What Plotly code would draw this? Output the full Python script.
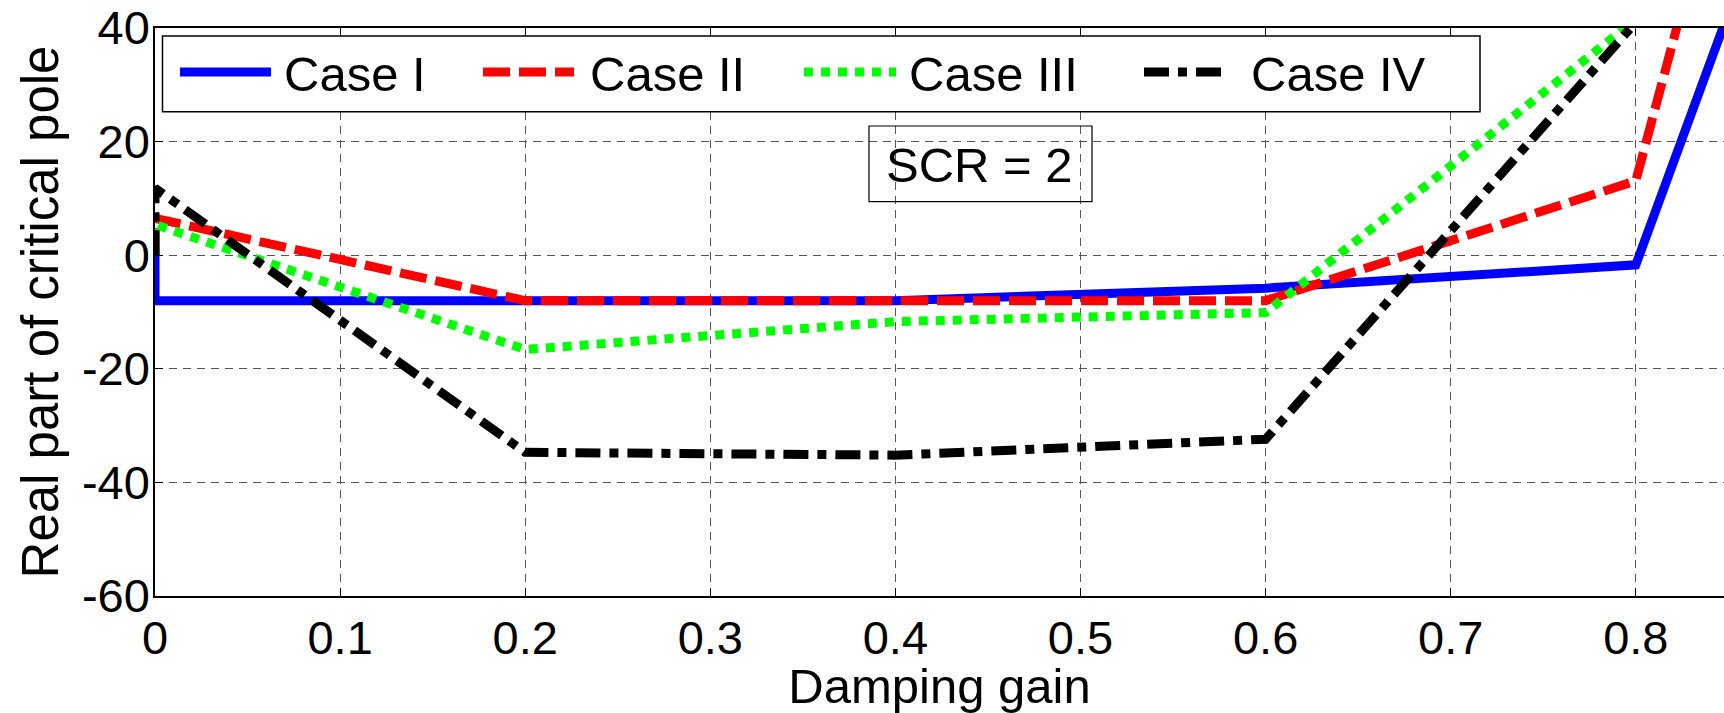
import plotly.graph_objects as go

# ---- data ----
damping_gain = [0, 0, 0.2, 0.4, 0.6, 0.8, 0.9]
case_i   = [0, -8.0, -8.0, -8.0, -5.8, -1.7, 87.0]
case_ii  = [0, 6.5, -8.0, -8.0, -8.0, 13.1, 135.0]
case_iii = [0, 5.4, -16.6, -11.7, -10.1, 41.5, None]
case_iv  = [0, 11.8, -34.7, -35.2, -32.4, 41.0, None]

series_names = ["Case I", "Case II", "Case III", "Case IV"]
series_vals = [case_i, case_ii, case_iii, case_iv]
colors = ["#0000ff", "#ff0000", "#00ff00", "#000000"]
dashes = ["solid", "27px,9px", "9px,8px", "25px,9px,9px,9px"]

x_ticks = [0, 0.1, 0.2, 0.3, 0.4, 0.5, 0.6, 0.7, 0.8]
y_ticks = [-60, -40, -20, 0, 20, 40]

W, H = 1724, 713
ML, MR, MT, MB = 155, 0, 28, 117
PW = W - ML - MR
PH = H - MT - MB
FONT = "Liberation Sans, Arial, Helvetica, sans-serif"

def px(xp):
    return (xp - ML) / PW

def py(yp):
    return (H - MB - yp) / PH

fig = go.Figure()
for name, vals, c, d in zip(series_names, series_vals, colors, dashes):
    fig.add_trace(go.Scatter(
        x=damping_gain, y=vals, mode="lines", name=name,
        line=dict(color=c, width=9, dash=d), showlegend=False,
    ))

grid = dict(showgrid=True, gridcolor="#555555", gridwidth=1, griddash="8px,6px")

fig.update_layout(
    width=W, height=H,
    margin=dict(l=ML, r=MR, t=MT, b=MB, pad=0),
    paper_bgcolor="white", plot_bgcolor="white",
    font=dict(family=FONT, size=47, color="black"),
    xaxis=dict(
        range=[0, PW / 1851.0], tickvals=x_ticks, ticktext=[f"{v:g}" for v in x_ticks],
        ticks="inside", ticklen=8, tickcolor="black", tickwidth=1,
        showline=True, linecolor="black", linewidth=1.5, mirror="ticks",
        zeroline=False,
        title=dict(text="Damping gain", font=dict(size=49), standoff=6),
        **grid,
    ),
    yaxis=dict(
        range=[-60, 40], tickvals=y_ticks, ticktext=[f"{v:d}" for v in y_ticks],
        ticks="inside", ticklen=8, tickcolor="black", tickwidth=1,
        ticklabelstandoff=-6,
        showline=True, linecolor="black", linewidth=1.5, mirror=False,
        zeroline=False,
        title=dict(text="Real part of critical pole", font=dict(size=51), standoff=7),
        **grid,
    ),
)

shapes = []
annotations = []
# legend box
shapes.append(dict(type="rect", xref="paper", yref="paper",
                   x0=px(162.5), x1=px(1480), y0=py(111.7), y1=py(36),
                   line=dict(color="black", width=1.5), fillcolor="white", layer="above"))
leg_samples = [(180, 271), (483, 574), (804, 896), (1144, 1224)]
leg_text_x = [282, 588, 907, 1249]
leg_y = 72
for (a, b), tx, name, c, d in zip(leg_samples, leg_text_x, series_names, colors, dashes):
    shapes.append(dict(type="line", xref="paper", yref="paper",
                       x0=px(a), x1=px(b), y0=py(leg_y), y1=py(leg_y),
                       line=dict(color=c, width=9, dash=d), layer="above"))
    annotations.append(dict(xref="paper", yref="paper", x=px(tx), y=py(leg_y + 2),
                            text=name, showarrow=False, xanchor="left", yanchor="middle",
                            font=dict(size=49, family=FONT, color="black")))

# SCR annotation box
shapes.append(dict(type="rect", xref="paper", yref="paper",
                   x0=px(869), x1=px(1092), y0=py(201.7), y1=py(126),
                   line=dict(color="black", width=1.2), fillcolor="rgba(0,0,0,0)", layer="above"))
annotations.append(dict(xref="paper", yref="paper", x=px(979), y=py(165),
                        text="SCR = 2", showarrow=False, xanchor="center", yanchor="middle",
                        font=dict(size=49, family=FONT, color="black")))

fig.update_layout(shapes=shapes, annotations=annotations)
fig.write_html("out.html")
